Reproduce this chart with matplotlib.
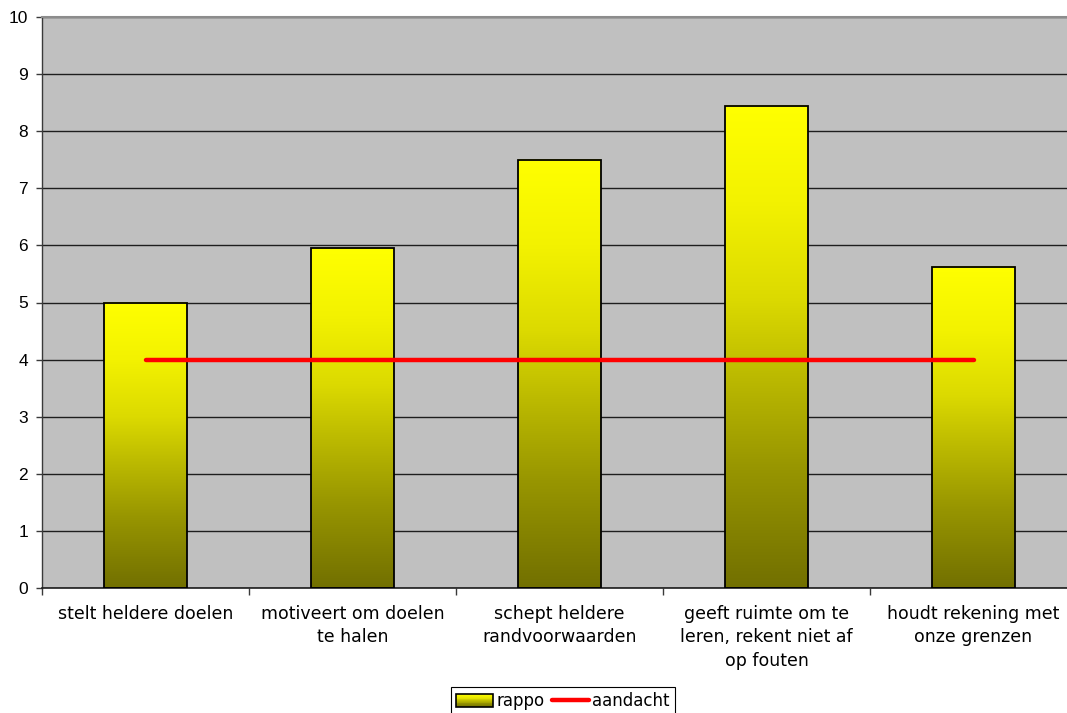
import numpy as np
import matplotlib
matplotlib.use("Agg")
import matplotlib.pyplot as plt
from matplotlib.colors import LinearSegmentedColormap
from matplotlib.patches import Rectangle
from matplotlib.lines import Line2D
from matplotlib.legend_handler import HandlerBase

# ---- data ----
categories = [
    "stelt heldere doelen",
    "motiveert om doelen\nte halen",
    "schept heldere\nrandvoorwaarden",
    "geeft ruimte om te\nleren, rekent niet af\nop fouten",
    "houdt rekening met\nonze grenzen",
]
rappo = [5.0, 5.95, 7.5, 8.45, 5.63]
aandacht = [4, 4, 4, 4, 4]
yticks = list(range(0, 11))
series_labels = ["rappo", "aandacht"]

# ---- style ----
W, H = 1067, 713
fig = plt.figure(figsize=(W / 100, H / 100), dpi=100)
ax = fig.add_axes([42 / W, 125 / H, 1035 / W, 571 / H])
ax.set_facecolor("#c0c0c0")

# olive (bottom) to yellow (top) fill used for every bar
bar_cmap = LinearSegmentedColormap.from_list(
    "olive_yellow",
    [(0.0, "#727000"), (0.25, "#989600"), (0.45, "#bebc00"),
     (0.6, "#dcda00"), (0.8, "#f3f200"), (1.0, "#ffff00")],
)
grad = np.linspace(0, 1, 256).reshape(-1, 1)

x = np.arange(len(categories))
bars = ax.bar(x, rappo, width=0.4, facecolor="none", edgecolor="black",
              linewidth=1.3, zorder=3)
for b in bars:
    ax.imshow(grad, cmap=bar_cmap, origin="lower", aspect="auto",
              extent=[b.get_x(), b.get_x() + b.get_width(), 0, b.get_height()],
              zorder=2.5, interpolation="bilinear")

ax.plot(x, aandacht, color="#ff0000", linewidth=3.2, solid_capstyle="round",
        zorder=4)

ax.set_xlim(-0.5, len(categories) - 0.5)
ax.set_ylim(0, 10)

# grid
ax.set_axisbelow(True)
ax.yaxis.grid(True, color="#1e1e1e", linewidth=1.0)
ax.xaxis.grid(False)

# spines
ax.spines["top"].set_color("#8c8c8c")
ax.spines["top"].set_linewidth(1.5)
ax.spines["left"].set_color("#3a3a3a")
ax.spines["left"].set_linewidth(1.0)
ax.spines["bottom"].set_color("#1e1e1e")
ax.spines["bottom"].set_linewidth(1.2)
ax.spines["right"].set_visible(False)

# y axis
ax.set_yticks(yticks)
ax.set_yticklabels([str(v) for v in yticks], fontfamily="Liberation Sans",
                   fontsize=12.5)
ax.tick_params(axis="y", direction="out", length=4, width=1, pad=6,
               color="#3a3a3a")

# x axis: labels at centres, tick marks at category boundaries
ax.set_xticks(x)
ax.set_xticklabels(categories, fontfamily="DejaVu Sans", fontsize=12.5,
                   linespacing=1.4)
ax.tick_params(axis="x", which="major", length=0, pad=12)
ax.set_xticks(np.arange(-0.5, len(categories) + 0.5, 1.0), minor=True)
ax.tick_params(axis="x", which="minor", direction="out", length=5, width=1,
               color="#3a3a3a")


class GradientHandler(HandlerBase):
    def create_artists(self, legend, orig_handle, xdescent, ydescent,
                       width, height, fontsize, trans):
        artists = []
        n = 16
        for i in range(n):
            artists.append(Rectangle(
                (-xdescent, -ydescent + height * i / n), width,
                height / n * 1.05, facecolor=bar_cmap((i + 0.5) / n),
                edgecolor="none", transform=trans))
        artists.append(Rectangle((-xdescent, -ydescent), width, height,
                                 facecolor="none", edgecolor="black",
                                 linewidth=1.2, transform=trans))
        return artists


bar_proxy = Rectangle((0, 0), 1, 1)
line_proxy = Line2D([], [], color="#ff0000", linewidth=3.2,
                    solid_capstyle="round")
leg = fig.legend(
    [bar_proxy, line_proxy], series_labels,
    handler_map={Rectangle: GradientHandler()},
    loc="upper center", bbox_to_anchor=(563 / W, 1 - 687 / H),
    ncol=2, frameon=True, fancybox=False, edgecolor="black", framealpha=1,
    borderpad=0.3, handlelength=2.2, handleheight=0.8, handletextpad=0.2,
    columnspacing=0.5, borderaxespad=0,
    prop={"family": "DejaVu Sans", "size": 12},
)
leg.get_frame().set_linewidth(0.8)

fig.savefig("out.png", dpi=100)
